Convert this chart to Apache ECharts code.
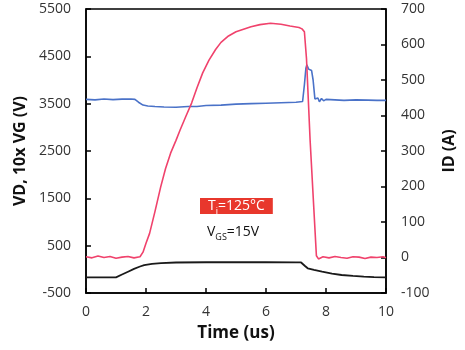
<!DOCTYPE html>
<html>
<head>
<meta charset="utf-8">
<script src="https://cdn.jsdelivr.net/npm/echarts@6/dist/echarts.min.js"></script>
<style>
html,body{margin:0;padding:0;background:#fff;}
#c{width:465px;height:350px;}
</style>
</head>
<body>
<div id="c"></div>
<script>
// ---- data ----
var xTicks = [0, 2, 4, 6, 8, 10];
var leftTicks = [-500, 500, 1500, 2500, 3500, 4500, 5500];
var rightTicks = [-100, 0, 100, 200, 300, 400, 500, 600, 700];

// ID (A), right axis
var tRed = [0,0.2,0.4,0.6,0.8,1.0,1.2,1.4,1.6,1.8,1.9,2.0,2.12,2.3,2.49,2.65,2.82,3.0,3.14,3.33,3.52,3.7,3.89,4.1,4.32,4.5,4.75,5.0,5.25,5.5,5.8,6.15,6.5,6.8,7.1,7.2,7.28,7.35,7.47,7.58,7.68,7.75,7.9,8.1,8.3,8.5,8.7,8.9,9.1,9.3,9.5,9.7,9.9,10];
var idA  = [2,-1,4,0,3,-2,1,3,-1,2,15,40,68,130,199,250,294,330,360,398,435,478,520,556,586,606,624,636,643,650,656,660,657,652,648,644,636,560,331,160,5,-4,2,-1,3,0,-2,2,1,-3,1,0,2,-1];

// VD (V), left axis
var tBlue = [0,0.3,0.6,0.9,1.2,1.5,1.63,1.75,1.9,2.06,2.3,2.6,3.0,3.4,3.7,4.0,4.5,5.0,5.5,6.0,6.5,7.0,7.22,7.28,7.33,7.36,7.42,7.52,7.57,7.63,7.68,7.73,7.78,7.85,7.92,8.0,8.3,8.6,9.0,9.4,9.7,10];
var vd    = [3590,3580,3600,3585,3595,3600,3590,3530,3470,3450,3440,3430,3425,3440,3440,3460,3470,3490,3500,3510,3520,3530,3545,3900,4250,4320,4230,4200,4000,3600,3560,3620,3540,3610,3560,3590,3580,3570,3580,3575,3570,3570];

// 10x VG (V), left axis
var tBlack = [0,1.0,1.2,1.4,1.6,1.8,1.94,2.2,2.5,3.0,4.0,5.0,6.0,7.0,7.17,7.3,7.39,7.6,7.87,8.2,8.52,8.9,9.26,9.6,10];
var vg10   = [-170,-170,-110,-50,10,60,91,115,130,144,150,150,150,148,145,70,22,-10,-50,-90,-120,-140,-156,-165,-170];

function pairs(t, v){ return t.map(function(x,i){ return [x, v[i]]; }); }

var chart = echarts.init(document.getElementById('c'));
var FONT = '"Open Sans", "Liberation Sans", sans-serif';
var axisLine = {show:true, onZero:false, lineStyle:{color:'#000', width:1.5}};
var tick = {show:true, inside:true, length:5, lineStyle:{color:'#000', width:1.5}};
function lbl(m){ return {margin:m, color:'#333', fontSize:14, fontFamily:FONT, formatter:function(v){ return String(v); }}; }

chart.setOption({
  animation:false,
  backgroundColor:'#fff',
  grid:{left:86, right:68, top:9, bottom:57, show:true, borderColor:'#000', borderWidth:1.5},
  xAxis:{
    type:'value', min:xTicks[0], max:xTicks[xTicks.length-1], interval:2,
    axisLine:axisLine, axisTick:tick, splitLine:{show:false},
    axisLabel:lbl(12),
    name:'Time (us)', nameLocation:'middle', nameGap:32,
    nameTextStyle:{fontSize:17, fontWeight:'bold', color:'#111', fontFamily:FONT}
  },
  yAxis:[{
    type:'value', min:leftTicks[0], max:leftTicks[leftTicks.length-1], interval:1000,
    axisLine:axisLine, axisTick:tick, splitLine:{show:false},
    axisLabel:lbl(15),
    name:'VD, 10x VG (V)', nameLocation:'middle', nameGap:56, nameRotate:90,
    nameTextStyle:{fontSize:16, fontWeight:'bold', color:'#111', fontFamily:FONT}
  },{
    type:'value', position:'right', min:rightTicks[0], max:rightTicks[rightTicks.length-1], interval:100,
    axisLine:axisLine, axisTick:tick, splitLine:{show:false},
    axisLabel:lbl(15),
    name:'ID (A)', nameLocation:'middle', nameGap:55, nameRotate:90,
    nameTextStyle:{fontSize:16, fontWeight:'bold', color:'#111', fontFamily:FONT}
  }],
  series:[
    {type:'line', name:'10x VG', yAxisIndex:0, data:pairs(tBlack, vg10), showSymbol:false,
     lineStyle:{color:'#1a1a1a', width:1.8}},
    {type:'line', name:'VD', yAxisIndex:0, data:pairs(tBlue, vd), showSymbol:false,
     lineStyle:{color:'#4a72c8', width:1.6}},
    {type:'line', name:'ID', yAxisIndex:1, data:pairs(tRed, idA), showSymbol:false,
     lineStyle:{color:'#f0426c', width:1.6}}
  ],
  graphic:[
    {type:'text', left:200, top:198,
     style:{
       text:'{a|T}{s|j}{a|=125°C}',
       backgroundColor:'#e8372c', padding:[1,8,1,8],
       rich:{
         a:{fontSize:14, fontFamily:FONT, fill:'#fff', color:'#fff'},
         s:{fontSize:9, fontFamily:FONT, fill:'#fff', color:'#fff', verticalAlign:'bottom', padding:[0,0,-3,0]}
       }
     }},
    {type:'text', left:207, top:225,
     style:{
       text:'{a|V}{s|GS}{a|=15V}',
       rich:{
         a:{fontSize:14, fontFamily:FONT, fill:'#111', color:'#111'},
         s:{fontSize:9, fontFamily:FONT, fill:'#111', color:'#111', verticalAlign:'bottom', padding:[0,0,-3,0]}
       }
     }}
  ]
});
</script>
</body>
</html>
